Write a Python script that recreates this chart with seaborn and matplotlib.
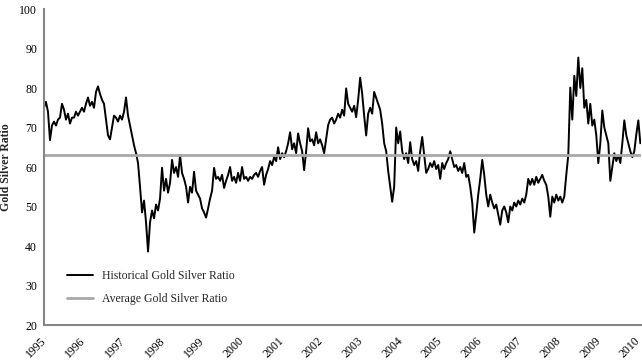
import pandas as pd
import seaborn as sns
import matplotlib.pyplot as plt
import matplotlib.dates as mdates
import matplotlib.transforms as mtransforms

# gold / silver ratio (roughly every 2.5 weeks)
ratio = [
    75, 76.5, 74, 66.8, 70.5, 71.5, 70.5, 72, 72.5, 76,
    74.5, 72, 73.5, 71, 72.5, 72.5, 74, 73, 74, 75,
    74, 76, 77.6, 75.5, 76.5, 75, 79, 80.4, 78.5, 77,
    76, 72, 68, 67, 70, 73, 72.5, 71.5, 73, 72,
    74, 77.6, 73, 70.5, 68, 65.5, 63.5, 61, 55, 48.5,
    51.5, 46, 38.6, 46, 49, 47, 50.5, 49, 52, 59.8,
    54, 57, 53.5, 56, 61.8, 58.5, 60, 57.5, 63, 58.5,
    57, 55, 51, 55, 53.5, 58.8, 54, 53, 52, 49.5,
    48.5, 47.2, 49.5, 52, 54, 59.8, 57, 57.5, 56.5, 58,
    54.7, 56.5, 58, 60, 56.5, 57.5, 56, 58.5, 56.5, 60,
    57, 57.5, 56.5, 57.5, 57, 58, 58.5, 57.5, 59, 60,
    55.5, 58, 59.5, 61.5, 60.5, 62.5, 61.5, 65, 62, 63.5,
    62.5, 64, 66, 68.8, 64.5, 66, 63.5, 68.5, 66, 64,
    59.2, 64, 69.8, 66.5, 67, 65.5, 68.8, 66, 67, 65.5,
    63.5, 67, 70.6, 72, 72.5, 71, 72, 73.5, 72.5, 74.5,
    73, 79.9, 76, 75, 74, 75.5, 72.6, 77, 82.6, 78.6,
    73, 68, 73.5, 75, 73.5, 79, 77.5, 76, 74.5, 71,
    66, 64, 59, 55, 51.2, 55, 70, 66, 69, 64,
    62, 63.5, 61, 66.3, 62, 60.5, 61.5, 59, 64, 67.6,
    63, 58.5, 59.5, 61, 60, 61.5, 59.5, 60.5, 57, 61,
    59.5, 61, 62, 64, 62, 60, 60.5, 59, 60, 58.5,
    61, 57.5, 58, 55, 51, 43.4, 48, 53, 57, 61.8,
    58, 53, 50, 53, 51, 49.5, 50.5, 48, 45.4, 49,
    50, 48.5, 46, 50, 49, 51, 50, 51.5, 50.5, 52,
    51, 53, 57, 55.5, 57, 55.5, 57.5, 56, 57, 58,
    56.5, 55.5, 52.5, 47.4, 52.5, 51, 53, 51.5, 52.5, 51,
    52.5, 58, 63, 80.1, 72, 83.1, 78, 87.7, 80, 85,
    75, 77, 71, 76, 70.5, 72, 68, 61, 66, 74.3,
    70, 68, 66, 56.5, 60, 63.5, 61.5, 63, 61, 66,
    71.8, 68, 66, 64, 62.5, 64, 68.3, 71.8, 66,
]
average_ratio = 63.0
years = list(range(1995, 2011))

dates = pd.date_range("1995-01-01", "2010-01-19", periods=len(ratio))
df = pd.DataFrame({"date": dates, "ratio": ratio})

sns.set_style("white")
plt.rcParams["font.family"] = ["Liberation Serif", "DejaVu Serif"]

fig = plt.figure(figsize=(6.42, 3.6), dpi=100)
ax = fig.add_axes([0.0685, 0.0972, 0.9299, 0.8778])

sns.lineplot(data=df, x="date", y="ratio", ax=ax, color="black", lw=1.4,
             label="Historical Gold Silver Ratio")
ax.axhline(average_ratio, color="#a8a8a8", lw=2, label="Average Gold Silver Ratio")

ax.set_xlim(pd.Timestamp("1995-01-01"), pd.Timestamp("2010-01-25"))
ax.set_ylim(20, 100)
ax.set_yticks(range(20, 101, 10))
ax.set_xticks([pd.Timestamp(f"{y}-01-01") for y in years])
ax.xaxis.set_major_formatter(mdates.DateFormatter("%Y"))
ax.tick_params(axis="both", length=0, labelsize=8.5, colors="black")
ax.tick_params(axis="x", pad=7)
ax.tick_params(axis="y", pad=5)

# rotated year labels, nudged left so their corner sits on the tick
shift = mtransforms.ScaledTranslation(-4 / 100, 0, fig.dpi_scale_trans)
for lab in ax.get_xticklabels():
    lab.set_rotation(45)
    lab.set_ha("right")
    lab.set_rotation_mode("anchor")
    lab.set_transform(lab.get_transform() + shift)

ax.set_xlabel("")
ax.set_ylabel("Gold Silver Ratio", fontsize=8.5, fontweight="bold")
ax.yaxis.set_label_coords(-0.053, 0.5)

for side in ["top", "right"]:
    ax.spines[side].set_visible(False)
for side in ["left", "bottom"]:
    ax.spines[side].set_color("#868686")
    ax.spines[side].set_linewidth(1.5)

ax.legend(loc="lower left", bbox_to_anchor=(0.02, 0.03), frameon=False,
          fontsize=8.5, handlelength=2.2, labelspacing=0.9)

plt.savefig("out.png", dpi=100)
